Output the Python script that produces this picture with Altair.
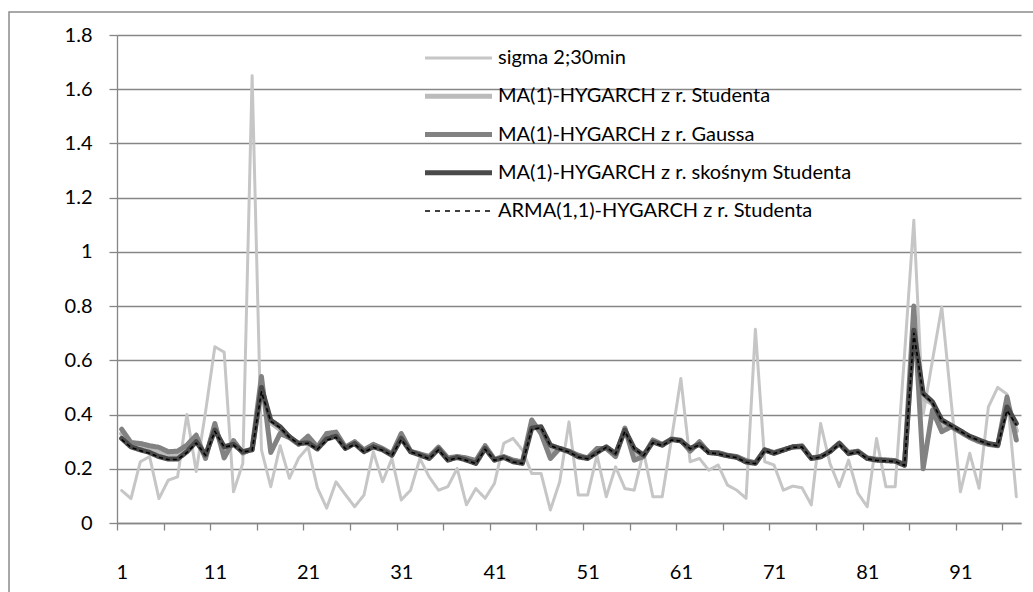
import altair as alt
import pandas as pd

idx = list(range(1, 98))

sigma = [0.12, 0.09, 0.226, 0.245, 0.09, 0.158, 0.17, 0.40, 0.19, 0.41,
         0.65, 0.63, 0.115, 0.22, 1.65, 0.27, 0.134, 0.285, 0.165, 0.24,
         0.28, 0.13, 0.055, 0.152, 0.105, 0.06, 0.103, 0.263, 0.152, 0.238,
         0.085, 0.121, 0.238, 0.17, 0.121, 0.134, 0.201, 0.067, 0.127, 0.091,
         0.146, 0.294, 0.312, 0.269, 0.183, 0.183, 0.048, 0.152, 0.373, 0.103,
         0.103, 0.25, 0.097, 0.207, 0.127, 0.121, 0.263, 0.097, 0.097, 0.31,
         0.533, 0.226, 0.238, 0.195, 0.214, 0.14, 0.121, 0.091, 0.715, 0.226,
         0.214, 0.121, 0.136, 0.13, 0.067, 0.367, 0.22, 0.134, 0.232, 0.11,
         0.06, 0.312, 0.134, 0.134, 0.62, 1.117, 0.398, 0.6, 0.797, 0.45,
         0.115, 0.257, 0.128, 0.428, 0.5, 0.475, 0.097]

student = [0.33, 0.29, 0.28, 0.27, 0.26, 0.25, 0.25, 0.275, 0.31, 0.245,
           0.355, 0.262, 0.295, 0.26, 0.272, 0.50, 0.37, 0.345, 0.318, 0.292,
           0.305, 0.276, 0.318, 0.327, 0.277, 0.296, 0.266, 0.285, 0.272, 0.252,
           0.32, 0.264, 0.253, 0.241, 0.276, 0.236, 0.243, 0.236, 0.225, 0.28,
           0.233, 0.243, 0.229, 0.222, 0.365, 0.345, 0.265, 0.275, 0.264, 0.247,
           0.239, 0.267, 0.278, 0.25, 0.346, 0.255, 0.247, 0.302, 0.288, 0.309,
           0.304, 0.27, 0.295, 0.26, 0.258, 0.249, 0.244, 0.228, 0.221, 0.27,
           0.258, 0.27, 0.28, 0.283, 0.239, 0.245, 0.264, 0.294, 0.258, 0.264,
           0.239, 0.233, 0.231, 0.229, 0.214, 0.72, 0.46, 0.44, 0.36, 0.358,
           0.338, 0.318, 0.303, 0.291, 0.286, 0.445, 0.34]

gauss = [0.346, 0.297, 0.293, 0.285, 0.279, 0.263, 0.265, 0.287, 0.324, 0.238,
         0.367, 0.24, 0.304, 0.258, 0.275, 0.54, 0.26, 0.33, 0.315, 0.29,
         0.32, 0.28, 0.33, 0.335, 0.28, 0.3, 0.27, 0.29, 0.275, 0.255,
         0.33, 0.265, 0.255, 0.245, 0.28, 0.24, 0.245, 0.24, 0.23, 0.285,
         0.235, 0.245, 0.232, 0.225, 0.38, 0.33, 0.238, 0.275, 0.265, 0.25,
         0.24, 0.275, 0.275, 0.245, 0.35, 0.232, 0.245, 0.306, 0.29, 0.31,
         0.305, 0.265, 0.3, 0.26, 0.26, 0.25, 0.245, 0.23, 0.222, 0.27,
         0.26, 0.27, 0.28, 0.285, 0.24, 0.245, 0.265, 0.295, 0.26, 0.265,
         0.24, 0.235, 0.233, 0.23, 0.216, 0.80, 0.20, 0.416, 0.337, 0.355,
         0.335, 0.315, 0.3, 0.29, 0.285, 0.465, 0.306]

skew = [0.312, 0.281, 0.27, 0.26, 0.245, 0.236, 0.236, 0.263, 0.30, 0.251,
        0.343, 0.281, 0.29, 0.263, 0.27, 0.50, 0.379, 0.355, 0.318, 0.293,
        0.296, 0.273, 0.31, 0.32, 0.275, 0.293, 0.263, 0.281, 0.27, 0.25,
        0.312, 0.263, 0.251, 0.238, 0.273, 0.232, 0.242, 0.232, 0.22, 0.275,
        0.232, 0.242, 0.226, 0.22, 0.35, 0.355, 0.287, 0.275, 0.263, 0.244,
        0.238, 0.26, 0.281, 0.256, 0.343, 0.275, 0.25, 0.299, 0.287, 0.308,
        0.303, 0.275, 0.29, 0.26, 0.256, 0.248, 0.242, 0.225, 0.22, 0.269,
        0.257, 0.269, 0.281, 0.281, 0.238, 0.244, 0.263, 0.293, 0.256, 0.263,
        0.238, 0.232, 0.23, 0.228, 0.213, 0.711, 0.478, 0.447, 0.38, 0.36,
        0.34, 0.32, 0.306, 0.293, 0.287, 0.428, 0.367]

arma = [0.308, 0.279, 0.267, 0.257, 0.243, 0.234, 0.234, 0.26, 0.295, 0.25,
        0.338, 0.28, 0.287, 0.262, 0.268, 0.484, 0.375, 0.352, 0.316, 0.292,
        0.294, 0.272, 0.306, 0.316, 0.274, 0.29, 0.262, 0.279, 0.268, 0.249,
        0.308, 0.262, 0.25, 0.237, 0.27, 0.231, 0.24, 0.231, 0.219, 0.272,
        0.231, 0.24, 0.225, 0.219, 0.345, 0.352, 0.285, 0.273, 0.262, 0.243,
        0.237, 0.258, 0.279, 0.255, 0.338, 0.274, 0.249, 0.296, 0.286, 0.306,
        0.302, 0.274, 0.288, 0.259, 0.255, 0.247, 0.241, 0.224, 0.219, 0.267,
        0.256, 0.268, 0.279, 0.28, 0.237, 0.243, 0.262, 0.29, 0.255, 0.262,
        0.237, 0.231, 0.229, 0.227, 0.212, 0.70, 0.474, 0.444, 0.378, 0.358,
        0.338, 0.318, 0.304, 0.291, 0.285, 0.415, 0.362]

names = ["sigma 2;30min",
         "MA(1)-HYGARCH z r. Studenta",
         "MA(1)-HYGARCH z r. Gaussa",
         "MA(1)-HYGARCH z r. skośnym Studenta",
         "ARMA(1,1)-HYGARCH z r. Studenta"]
series_values = [sigma, student, gauss, skew, arma]
colors = ["#C6C6C6", "#BBBBBB", "#828282", "#4A4A4A", "#000000"]
widths = [3, 5, 5, 5, 1.6]
dashes = [[1, 0], [1, 0], [1, 0], [1, 0], [4, 3]]
legend_dashes = [[1, 0], [1, 0], [1, 0], [1, 0], [5, 5]]

y_ticks = [0, 0.2, 0.4, 0.6, 0.8, 1, 1.2, 1.4, 1.6, 1.8]
x_tick_bounds = [0.5 + 5 * m for m in range(20)]

FONT = "Lato"
GRID = "#868686"
FS = 20

x_enc = alt.X(
    "idx:Q",
    scale=alt.Scale(domain=[0.5, 97.5], nice=False, zero=False),
    axis=alt.Axis(
        values=x_tick_bounds, title=None, grid=False,
        domainColor=GRID, domainWidth=1.3, tickColor=GRID, tickWidth=1.3, tickSize=7,
        labelExpr="(datum.value - 0.5) % 10 == 0 ? format(datum.value + 0.5, 'd') : ''",
        labelOffset=4.7, labelPadding=32, labelFontSize=FS, labelFont=FONT,
        labelColor="#000000", labelOverlap=False, labelFlush=False, labelBound=False,
    ),
)
y_enc = alt.Y(
    "value:Q",
    scale=alt.Scale(domain=[0, 1.8], nice=False, zero=True),
    axis=alt.Axis(
        values=y_ticks, format="~g", title=None, grid=True,
        gridColor=GRID, gridWidth=1.3, domainColor=GRID, domainWidth=1.3,
        tickColor=GRID, tickWidth=1.3, tickSize=8, labelPadding=17,
        labelFontSize=FS, labelFont=FONT, labelColor="#000000",
    ),
)

line_layers = []
for name, vals, c, w, d in zip(names, series_values, colors, widths, dashes):
    df = pd.DataFrame({"idx": idx, "value": vals, "series": name})
    line_layers.append(
        alt.Chart(df).mark_line(color=c, strokeWidth=w, strokeDash=d,
                                strokeJoin="round", strokeCap="round" if d == [1, 0] else "butt")
        .encode(x=x_enc, y=y_enc)
    )
main = alt.layer(*line_layers)

leg_df = pd.DataFrame({"series": names, "pos": list(range(len(names)))})
leg_y = alt.Y("pos:Q", scale=alt.Scale(domain=[0, 4], range=[23, 176]), axis=None)
leg_layers = []
for k, (name, c, w, d) in enumerate(zip(names, colors, widths, legend_dashes)):
    leg_layers.append(
        alt.Chart(leg_df[leg_df["pos"] == k]).mark_rule(
            color=c, strokeWidth=w, strokeDash=d, strokeCap="butt"
        ).encode(x=alt.value(308), x2=alt.value(375), y=leg_y)
    )
leg_text = alt.Chart(leg_df).mark_text(
    align="left", baseline="middle", fontSize=FS, font=FONT, color="#000000"
).encode(x=alt.value(381), y=leg_y, text="series:N")
legend = alt.layer(*leg_layers, leg_text)

frame = alt.Chart(pd.DataFrame({"a": [0]})).mark_rect(
    filled=False, stroke="#8C8C8C", strokeWidth=1.5
).encode(x=alt.value(-108), x2=alt.value(930), y=alt.value(-23), y2=alt.value(600))

chart = alt.layer(main, legend, frame).resolve_scale(y="independent").properties(
    width=904, height=488,
    autosize=alt.AutoSizeParams(type="none"),
    padding={"left": 117, "top": 35, "right": 12, "bottom": 69},
    background="#FFFFFF",
).configure_view(stroke=None)

chart.save("out.html", embed_options={"renderer": "svg", "actions": False})
